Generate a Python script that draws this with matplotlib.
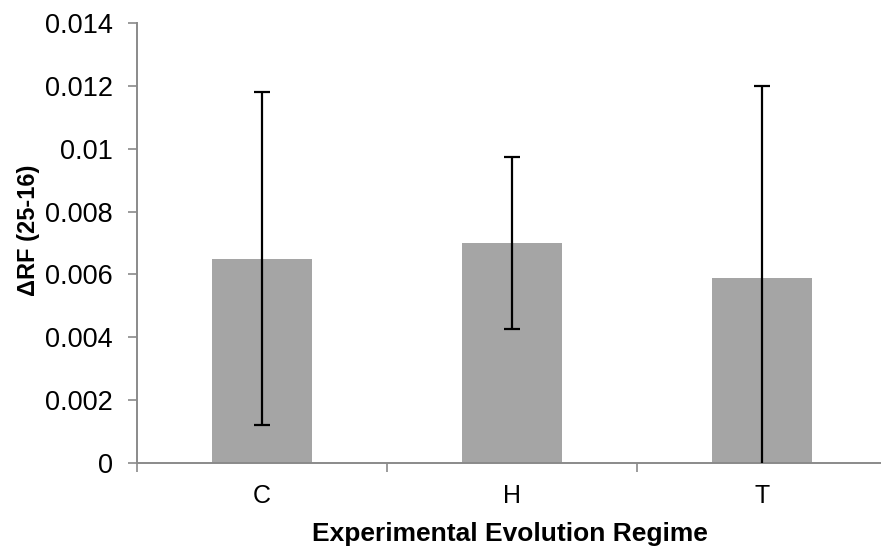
import matplotlib
matplotlib.use("Agg")
import matplotlib.pyplot as plt
import numpy as np
from matplotlib.ticker import FixedLocator, FixedFormatter

# data
regimes = ["C", "H", "T"]
delta_rf = [0.0065, 0.0070, 0.0059]
err = [0.0053, 0.00275, 0.0061]
ytick_vals = [0, 0.002, 0.004, 0.006, 0.008, 0.01, 0.012, 0.014]
ytick_labels = ["0", "0.002", "0.004", "0.006", "0.008", "0.01", "0.012", "0.014"]

plt.rcParams["font.family"] = ["Liberation Sans", "DejaVu Sans"]
axis_grey = "#8a8a8a"

fig = plt.figure(figsize=(8.81, 5.52), dpi=100)
ax = fig.add_axes([137 / 881, 1 - 463 / 552, 750 / 881, 440 / 552])

x = np.arange(len(regimes))
ax.bar(x, delta_rf, width=0.4, color="#a5a5a5", zorder=2)
ax.errorbar(x, delta_rf, yerr=err, fmt="none", ecolor="black",
            elinewidth=1.6, capsize=6, capthick=1.6, zorder=3)

ax.set_xlim(-0.5, 2.5)
ax.set_ylim(0, 0.014)

ax.yaxis.set_major_locator(FixedLocator(ytick_vals))
ax.yaxis.set_major_formatter(FixedFormatter(ytick_labels))
ax.tick_params(axis="y", direction="out", length=6.5, width=1.2,
               color=axis_grey, labelsize=19.5, pad=11)

ax.set_xticks(x)
ax.set_xticklabels(regimes)
ax.set_xticks([-0.5, 0.5, 1.5, 2.5], minor=True)
ax.tick_params(axis="x", which="major", length=0, labelsize=18, pad=15)
ax.tick_params(axis="x", which="minor", direction="out", length=6.5,
               width=1.2, color=axis_grey)

for side in ["top", "right"]:
    ax.spines[side].set_visible(False)
for side in ["left", "bottom"]:
    ax.spines[side].set_color(axis_grey)
    ax.spines[side].set_linewidth(1.4)

ax.set_xlabel("Experimental Evolution Regime", fontsize=19, fontweight="bold")
ax.xaxis.set_label_coords((510 - 137) / 750, -(522 - 463) / 440)
ax.set_ylabel("\u0394RF (25-16)", fontsize=17, fontweight="bold")
ax.yaxis.set_label_coords(-(137 - 40) / 750, (463 - 230) / 440)

fig.savefig("out.png", dpi=100)
